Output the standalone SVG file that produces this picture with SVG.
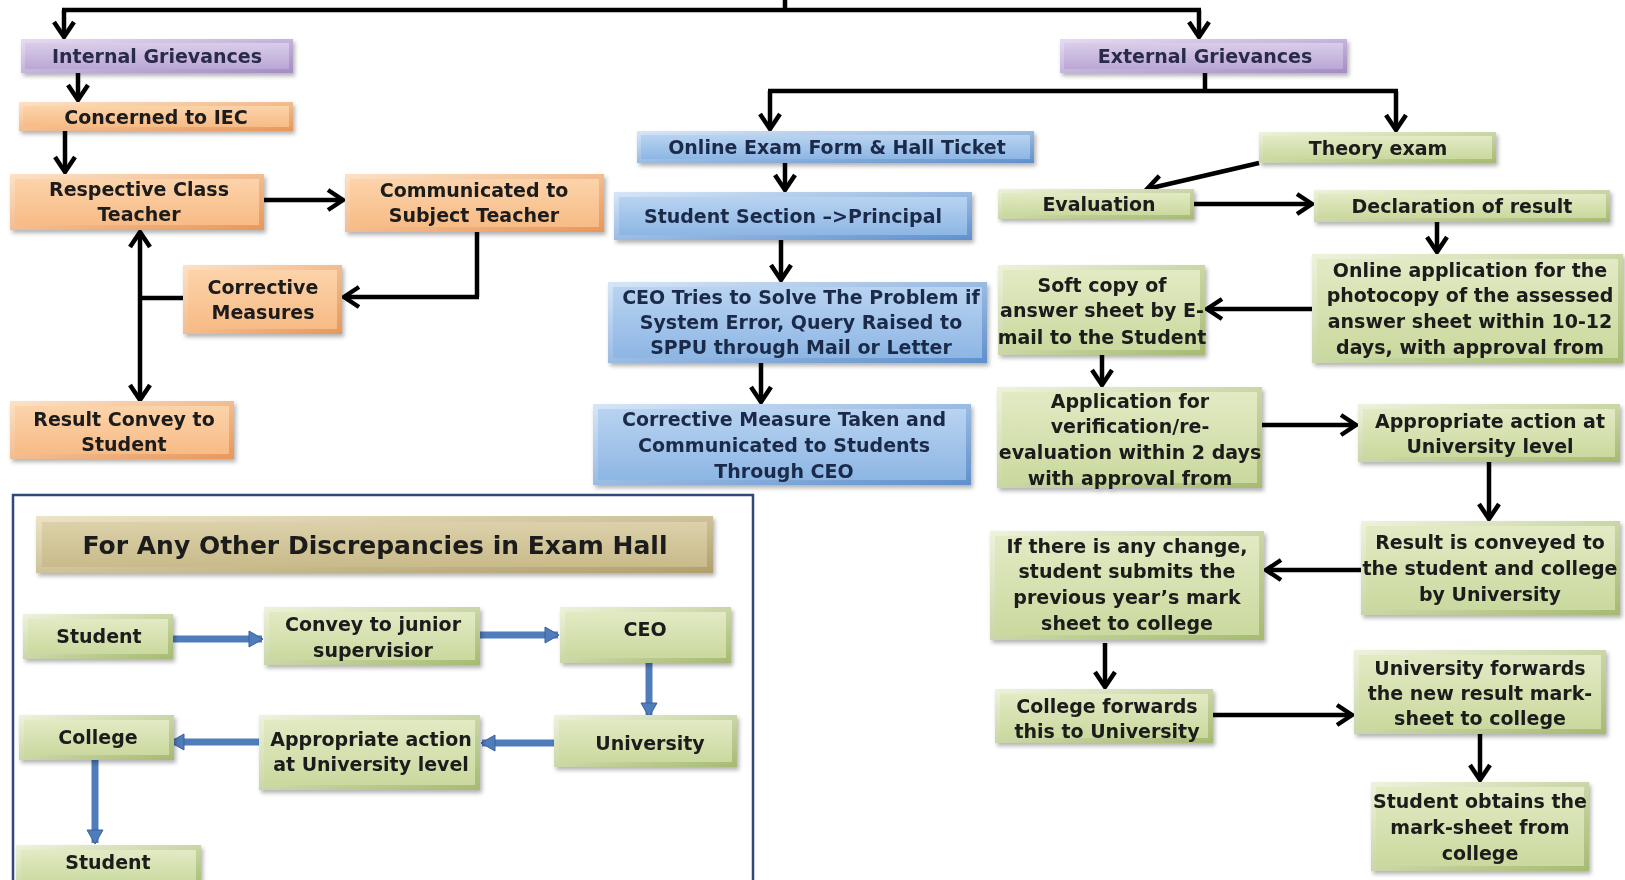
<svg xmlns="http://www.w3.org/2000/svg" width="1625" height="880" viewBox="0 0 1625 880">
<defs>
<linearGradient id="pE" x1="0" y1="0" x2="1" y2="1"><stop offset="0" stop-color="#e6dcf2"/><stop offset="1" stop-color="#a38dc4"/></linearGradient>
<linearGradient id="pF" x1="0" y1="0" x2="0" y2="1"><stop offset="0" stop-color="#d9cdea"/><stop offset="1" stop-color="#bba6d6"/></linearGradient>
<linearGradient id="oE" x1="0" y1="0" x2="1" y2="1"><stop offset="0" stop-color="#fde2c6"/><stop offset="1" stop-color="#e8975a"/></linearGradient>
<linearGradient id="oF" x1="0" y1="0" x2="0" y2="1"><stop offset="0" stop-color="#fcd3aa"/><stop offset="1" stop-color="#f7bb86"/></linearGradient>
<linearGradient id="bE" x1="0" y1="0" x2="1" y2="1"><stop offset="0" stop-color="#d6e6f8"/><stop offset="1" stop-color="#5f90cc"/></linearGradient>
<linearGradient id="bF" x1="0" y1="0" x2="0" y2="1"><stop offset="0" stop-color="#b8d3f1"/><stop offset="1" stop-color="#8db6e4"/></linearGradient>
<linearGradient id="gE" x1="0" y1="0" x2="1" y2="1"><stop offset="0" stop-color="#eef3dc"/><stop offset="1" stop-color="#a6ba72"/></linearGradient>
<linearGradient id="gF" x1="0" y1="0" x2="0" y2="1"><stop offset="0" stop-color="#e2eac4"/><stop offset="1" stop-color="#cad99e"/></linearGradient>
<linearGradient id="tE" x1="0" y1="0" x2="1" y2="1"><stop offset="0" stop-color="#ece4c8"/><stop offset="1" stop-color="#b0a06c"/></linearGradient>
<linearGradient id="tF" x1="0" y1="0" x2="0" y2="1"><stop offset="0" stop-color="#dcd1aa"/><stop offset="1" stop-color="#c8ba8a"/></linearGradient>
<filter id="sh" x="-10%" y="-20%" width="125%" height="150%"><feDropShadow dx="2" dy="3" stdDeviation="2" flood-color="#000" flood-opacity="0.3"/></filter>
<marker id="ah" markerUnits="userSpaceOnUse" markerWidth="24" markerHeight="24" viewBox="0 0 24 24" refX="18" refY="12" orient="auto-start-reverse"><path d="M3,2 L18,12 L3,22" fill="none" stroke="#000" stroke-width="4.5" stroke-linejoin="miter"/></marker>
<marker id="bh" markerUnits="userSpaceOnUse" markerWidth="16" markerHeight="18" viewBox="0 0 16 18" refX="14" refY="9" orient="auto"><path d="M1,1 L15,9 L1,17 z" fill="#4f7cbb" stroke="#3b6299" stroke-width="1"/></marker>
<style>
.pe{fill:url(#pE)} .pf{fill:url(#pF)}
.oe{fill:url(#oE)} .of{fill:url(#oF)}
.be{fill:url(#bE)} .bf{fill:url(#bF)}
.ge{fill:url(#gE)} .gf{fill:url(#gF)}
.te{fill:url(#tE)} .tf{fill:url(#tF)}
.n{filter:url(#sh)}
text{font-family:"DejaVu Sans",Roboto,sans-serif;font-weight:700;font-size:19px;text-anchor:middle;fill:#1a1a1a}
.tb{fill:#1c2b4a}
.tp{fill:#2a2a4a}
.c{fill:none;stroke:#000;stroke-width:4.5;marker-end:url(#ah)}
.cl{fill:none;stroke:#000;stroke-width:4.5}
.bl{fill:none;stroke:#4f7cbb;stroke-width:7;marker-end:url(#bh)}
</style>
</defs>
<rect width="1625" height="880" fill="#fff"/>
<rect x="13" y="495" width="740" height="400" fill="none" stroke="#2e4a7a" stroke-width="2.5"/>

<g id="connectors">
<path class="cl" d="M785,0 V10"/>
<path class="cl" d="M62,10 H1201"/>
<path class="c" d="M64,10 V37"/>
<path class="c" d="M1199,10 V37"/>
<path class="c" d="M78,73 V100"/>
<path class="c" d="M65,131 V172"/>
<path class="c" d="M264,200 H343"/>
<path class="cl" d="M477,232 V297"/>
<path class="c" d="M479,297 H344"/>
<path class="cl" d="M183,298 H140"/>
<path class="c" d="M140,232 V400" style="marker-start:url(#ah)"/>
<path class="cl" d="M1205,73 V91"/>
<path class="cl" d="M768,91 H1398"/>
<path class="c" d="M770,91 V129"/>
<path class="c" d="M1396,91 V130"/>
<path class="c" d="M785,163 V190"/>
<path class="c" d="M781,240 V280"/>
<path class="c" d="M761,363 V402"/>
<path class="c" d="M1259,163 L1147,189"/>
<path class="c" d="M1194,204 H1312"/>
<path class="c" d="M1437,222 V252"/>
<path class="c" d="M1312,309 H1207"/>
<path class="c" d="M1102,355 V385"/>
<path class="c" d="M1262,425 H1356"/>
<path class="c" d="M1489,462 V519"/>
<path class="c" d="M1361,570 H1266"/>
<path class="c" d="M1105,643 V687"/>
<path class="c" d="M1213,715 H1352"/>
<path class="c" d="M1480,734 V780"/>
<path class="bl" d="M173,639 H262"/>
<path class="bl" d="M480,635 H558"/>
<path class="bl" d="M649,663 V716"/>
<path class="bl" d="M554,743 H482"/>
<path class="bl" d="M259,742 H171"/>
<path class="bl" d="M95,760 V843"/>
</g>

<g id="internal" class="n"><rect class="pe" x="21" y="39" width="272" height="34"/><rect class="pf" x="25" y="43" width="264" height="26"/><text class="tp" x="157" y="63">Internal Grievances</text></g>
<g id="iec" class="n"><rect class="oe" x="19" y="102" width="274" height="29"/><rect class="of" x="23" y="106" width="266" height="21"/><text x="156" y="124">Concerned to IEC</text></g>
<g id="classTeacher" class="n"><rect class="oe" x="10" y="174" width="254" height="56"/><rect class="of" x="15" y="179" width="244" height="46"/><text x="139" y="196">Respective Class</text><text x="139" y="221">Teacher</text></g>
<g id="subjectTeacher" class="n"><rect class="oe" x="345" y="174" width="259" height="58"/><rect class="of" x="350" y="179" width="249" height="48"/><text x="474" y="197">Communicated to</text><text x="474" y="222">Subject Teacher</text></g>
<g id="corrective" class="n"><rect class="oe" x="183" y="265" width="159" height="69"/><rect class="of" x="188" y="270" width="149" height="59"/><text x="263" y="294">Corrective</text><text x="263" y="319">Measures</text></g>
<g id="resultConvey" class="n"><rect class="oe" x="10" y="401" width="224" height="58"/><rect class="of" x="15" y="406" width="214" height="48"/><text x="124" y="426">Result Convey to</text><text x="124" y="451">Student</text></g>

<g id="external" class="n"><rect class="pe" x="1060" y="39" width="287" height="34"/><rect class="pf" x="1064" y="43" width="279" height="26"/><text class="tp" x="1205" y="63">External Grievances</text></g>

<g id="onlineExam" class="n"><rect class="be" x="637" y="131" width="397" height="32"/><rect class="bf" x="641" y="135" width="389" height="24"/><text class="tb" x="837" y="154">Online Exam Form &amp; Hall Ticket</text></g>
<g id="studentSection" class="n"><rect class="be" x="614" y="192" width="358" height="48"/><rect class="bf" x="619" y="197" width="348" height="38"/><text class="tb" x="793" y="223">Student Section –&gt;Principal</text></g>
<g id="ceoTries" class="n"><rect class="be" x="608" y="282" width="379" height="81"/><rect class="bf" x="613" y="287" width="369" height="71"/><text class="tb" x="801" y="304">CEO Tries to Solve The Problem if</text><text class="tb" x="801" y="329">System Error, Query Raised to</text><text class="tb" x="801" y="354">SPPU through Mail or Letter</text></g>
<g id="correctiveTaken" class="n"><rect class="be" x="593" y="404" width="378" height="81"/><rect class="bf" x="598" y="409" width="368" height="71"/><text class="tb" x="784" y="426">Corrective Measure Taken and</text><text class="tb" x="784" y="452">Communicated to Students</text><text class="tb" x="784" y="478">Through CEO</text></g>

<g id="theory" class="n"><rect class="ge" x="1259" y="132" width="237" height="31"/><rect class="gf" x="1263" y="136" width="229" height="23"/><text x="1378" y="155">Theory exam</text></g>
<g id="evaluation" class="n"><rect class="ge" x="998" y="189" width="196" height="30"/><rect class="gf" x="1002" y="193" width="188" height="22"/><text x="1099" y="211">Evaluation</text></g>
<g id="declaration" class="n"><rect class="ge" x="1314" y="190" width="296" height="32"/><rect class="gf" x="1318" y="194" width="288" height="24"/><text x="1462" y="213">Declaration of result</text></g>
<g id="onlineApp" class="n"><rect class="ge" x="1312" y="254" width="311" height="109"/><rect class="gf" x="1317" y="259" width="301" height="99"/><text x="1470" y="277">Online application for the</text><text x="1470" y="302">photocopy of the assessed</text><text x="1470" y="328">answer sheet within 10-12</text><text x="1470" y="354">days, with approval from</text></g>
<g id="softCopy" class="n"><rect class="ge" x="998" y="265" width="207" height="90"/><rect class="gf" x="1003" y="270" width="197" height="80"/><text x="1102" y="292">Soft copy of</text><text x="1102" y="317">answer sheet by E-</text><text x="1102" y="344">mail to the Student</text></g>
<g id="appVerif" class="n"><rect class="ge" x="997" y="387" width="265" height="101"/><rect class="gf" x="1002" y="392" width="255" height="91"/><text x="1130" y="408">Application for</text><text x="1130" y="433">verification/re-</text><text x="1130" y="459">evaluation within 2 days</text><text x="1130" y="485">with approval from</text></g>
<g id="appropriate" class="n"><rect class="ge" x="1358" y="404" width="262" height="58"/><rect class="gf" x="1363" y="409" width="252" height="48"/><text x="1490" y="428">Appropriate action at</text><text x="1490" y="453">University level</text></g>
<g id="resultConveyed" class="n"><rect class="ge" x="1361" y="521" width="259" height="94"/><rect class="gf" x="1366" y="526" width="249" height="84"/><text x="1490" y="549">Result is conveyed to</text><text x="1490" y="575">the student and college</text><text x="1490" y="601">by University</text></g>
<g id="ifChange" class="n"><rect class="ge" x="990" y="531" width="274" height="109"/><rect class="gf" x="995" y="536" width="264" height="99"/><text x="1127" y="553">If there is any change,</text><text x="1127" y="578">student submits the</text><text x="1127" y="604">previous year’s mark</text><text x="1127" y="630">sheet to college</text></g>
<g id="collegeFwd" class="n"><rect class="ge" x="995" y="689" width="218" height="54"/><rect class="gf" x="1000" y="694" width="208" height="44"/><text x="1107" y="713">College forwards</text><text x="1107" y="738">this to University</text></g>
<g id="univFwd" class="n"><rect class="ge" x="1354" y="650" width="252" height="84"/><rect class="gf" x="1359" y="655" width="242" height="74"/><text x="1480" y="675">University forwards</text><text x="1480" y="700">the new result mark-</text><text x="1480" y="725">sheet to college</text></g>
<g id="studentObtains" class="n"><rect class="ge" x="1371" y="782" width="218" height="89"/><rect class="gf" x="1376" y="787" width="208" height="79"/><text x="1480" y="808">Student obtains the</text><text x="1480" y="834">mark-sheet from</text><text x="1480" y="860">college</text></g>

<g id="examHallTitle" class="n"><rect class="te" x="36" y="516" width="677" height="57"/><rect class="tf" x="42" y="522" width="665" height="45"/><text x="375" y="554" style="font-size:25px">For Any Other Discrepancies in Exam Hall</text></g>
<g id="hallStudent" class="n"><rect class="ge" x="23" y="614" width="150" height="45"/><rect class="gf" x="28" y="619" width="140" height="35"/><text x="99" y="643">Student</text></g>
<g id="hallConvey" class="n"><rect class="ge" x="264" y="607" width="216" height="58"/><rect class="gf" x="269" y="612" width="206" height="48"/><text x="373" y="631">Convey to  junior</text><text x="373" y="657">supervisior</text></g>
<g id="hallCEO" class="n"><rect class="ge" x="560" y="607" width="171" height="56"/><rect class="gf" x="565" y="612" width="161" height="46"/><text x="645" y="636">CEO</text></g>
<g id="hallUniversity" class="n"><rect class="ge" x="554" y="715" width="183" height="52"/><rect class="gf" x="559" y="720" width="173" height="42"/><text x="650" y="750">University</text></g>
<g id="hallAction" class="n"><rect class="ge" x="259" y="715" width="221" height="75"/><rect class="gf" x="264" y="720" width="211" height="65"/><text x="371" y="746">Appropriate action</text><text x="371" y="771">at University level</text></g>
<g id="hallCollege" class="n"><rect class="ge" x="19" y="715" width="155" height="45"/><rect class="gf" x="24" y="720" width="145" height="35"/><text x="98" y="744">College</text></g>
<g id="hallStudent2" class="n"><rect class="ge" x="16" y="845" width="185" height="45"/><rect class="gf" x="21" y="850" width="175" height="35"/><text x="108" y="869">Student</text></g>
</svg>
